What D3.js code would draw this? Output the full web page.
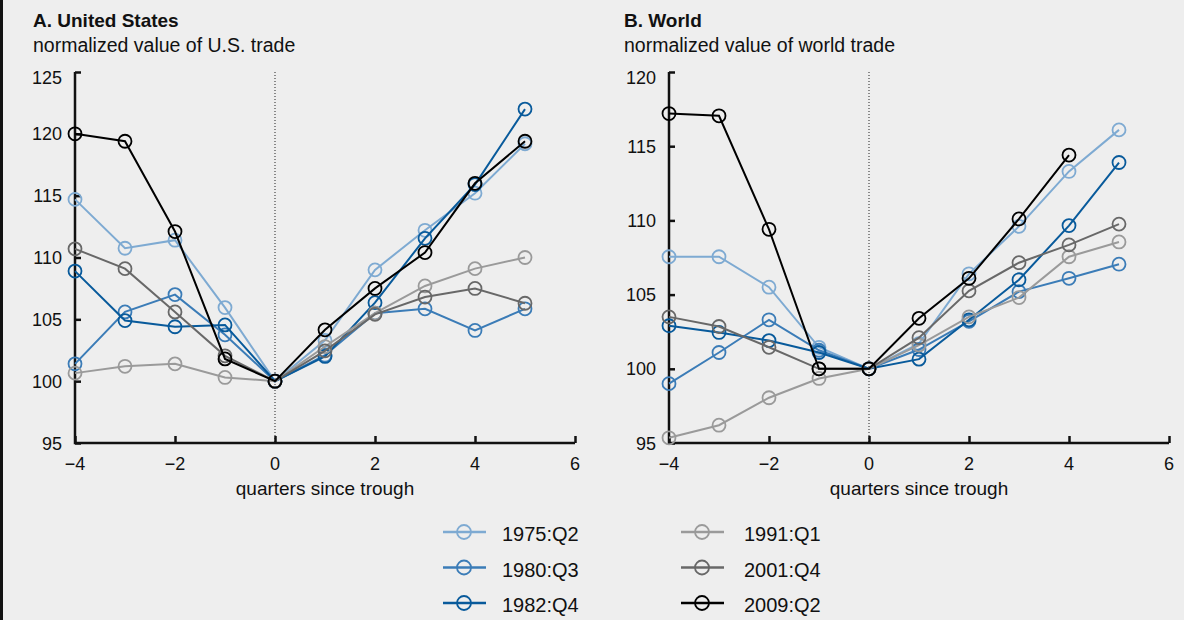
<html lang="en">
<head>
<script src="https://cdnjs.cloudflare.com/ajax/libs/d3/7.7.0/d3.min.js"></script>
<style>
html, body {
  margin: 0;
  background: #eeeeee;
  font-family: 'Liberation Sans', Arial, sans-serif;
}
svg text { fill: #111; font-size: 18px; }
</style>
</head>
<body>
<svg width="1184" height="620"></svg>
<script>
const quarters = [-4, -3, -2, -1, 0, 1, 2, 3, 4, 5];
const recessions = ['1975:Q2', '1980:Q3', '1982:Q4', '1991:Q1', '2001:Q4', '2009:Q2'];
const colors = ['#7eaad2', '#3b7cb7', '#085a9b', '#9a9a9a', '#686868', '#000000'];

// U.S. trade, normalized to 100 at trough
const us1975 = [114.7, 110.75, 111.4, 105.95, 100, 103.3, 109.0, 112.2, 115.2, 119.2];
const us1980 = [101.4, 105.6, 107.0, 103.75, 100, 102.1, 105.5, 105.85, 104.1, 105.85];
const us1982 = [108.9, 104.9, 104.4, 104.55, 100, 102.0, 106.35, 111.55, 115.9, 122.0];
const us1991 = [100.65, 101.2, 101.4, 100.3, 100, 102.8, 105.5, 107.7, 109.1, 110.0];
const us2001 = [110.7, 109.1, 105.6, 102.05, 100, 102.45, 105.4, 106.8, 107.5, 106.3];
const us2009 = [120.0, 119.4, 112.1, 101.8, 100, 104.15, 107.5, 110.4, 116.0, 119.4];

// world trade, normalized to 100 at trough
const w1975 = [107.55, 107.55, 105.5, 101.45, 100, 101.7, 106.4, 109.6, 113.3, 116.1];
const w1980 = [99.0, 101.1, 103.3, 101.25, 100, 101.3, 103.2, 105.2, 106.1, 107.05];
const w1982 = [102.9, 102.45, 101.9, 101.1, 100, 100.65, 103.3, 106.0, 109.65, 113.9];
const w1991 = [95.35, 96.2, 98.05, 99.35, 100, 101.6, 103.5, 104.8, 107.55, 108.55];
const w2001 = [103.5, 102.85, 101.45, 100.0, 100, 102.1, 105.25, 107.15, 108.35, 109.75];
const w2009 = [117.2, 117.05, 109.4, 100.0, 100, 103.4, 106.1, 110.1, 114.4, null];

const xTicks = [-4, -2, 0, 2, 4, 6];
const usTicks = [95, 100, 105, 110, 115, 120, 125];
const worldTicks = [95, 100, 105, 110, 115, 120];

const svg = d3.select('svg');

// left frame rule
svg.append('rect').attr('x', 0).attr('y', 0).attr('width', 3).attr('height', 620).attr('fill', '#111');

const panels = [
  { title: 'A. United States', sub: 'normalized value of U.S. trade', x0: 75, tx: 33,
    domain: [95, 125], ticks: usTicks,
    series: [us1975, us1980, us1982, us1991, us2001, us2009] },
  { title: 'B. World', sub: 'normalized value of world trade', x0: 669, tx: 624,
    domain: [95, 120], ticks: worldTicks,
    series: [w1975, w1980, w1982, w1991, w2001, w2009] }
];

const yTop = 72, yBottom = 443, plotW = 500;

panels.forEach(p => {
  const g = svg.append('g');
  const x = d3.scaleLinear().domain([-4, 6]).range([p.x0, p.x0 + plotW]);
  const y = d3.scaleLinear().domain(p.domain).range([yBottom, yTop]);

  g.append('text').attr('x', p.tx).attr('y', 27)
    .style('font-weight', 'bold').style('font-size', '19px').text(p.title);
  g.append('text').attr('x', p.tx).attr('y', 52)
    .style('font-size', '19.5px').text(p.sub);

  // zero line
  g.append('line')
    .attr('x1', x(0)).attr('x2', x(0)).attr('y1', yTop).attr('y2', yBottom)
    .attr('stroke', '#222').attr('stroke-width', 1).attr('stroke-dasharray', '1 2');

  // axes
  const yAxis = g.append('g').attr('transform', `translate(${p.x0},0)`)
    .call(d3.axisRight(y).tickValues(p.ticks).tickSize(6).tickFormat(''));
  const xAxis = g.append('g').attr('transform', `translate(0,${yBottom})`)
    .call(d3.axisTop(x).tickValues(xTicks).tickSize(7).tickFormat(''));
  [yAxis, xAxis].forEach(a => {
    a.select('.domain').remove();
    a.selectAll('line').attr('stroke', '#111').attr('stroke-width', 2.5);
  });
  g.append('path')
    .attr('d', `M${p.x0},${yTop}V${yBottom}H${p.x0 + plotW}`)
    .attr('fill', 'none').attr('stroke', '#111').attr('stroke-width', 2.5);

  g.selectAll('.ylab').data(p.ticks).enter().append('text')
    .attr('x', p.x0 - 13).attr('y', d => Math.max(y(d), yTop + 5) + 6.5)
    .attr('text-anchor', 'end')
    .text(d => d);
  g.selectAll('.xlab').data(xTicks).enter().append('text')
    .attr('x', d => x(d)).attr('y', yBottom + 27)
    .attr('text-anchor', 'middle')
    .text(d => d < 0 ? '\u2212' + Math.abs(d) : d);
  g.append('text').attr('x', p.x0 + plotW / 2).attr('y', yBottom + 52)
    .attr('text-anchor', 'middle').style('font-size', '19px').text('quarters since trough');

  const line = d3.line().defined(d => d[1] != null).x(d => x(d[0])).y(d => y(d[1]));

  p.series.forEach((s, i) => {
    const pts = quarters.map((q, j) => [q, s[j]]);
    g.append('path').datum(pts)
      .attr('d', line).attr('fill', 'none')
      .attr('stroke', colors[i]).attr('stroke-width', 2);
    g.selectAll('.pt' + i).data(pts.filter(d => d[1] != null)).enter().append('circle')
      .attr('cx', d => x(d[0])).attr('cy', d => y(d[1])).attr('r', 6.5)
      .attr('fill', 'none').attr('stroke', colors[i]).attr('stroke-width', 1.8);
  });
});

// legend
const leg = svg.append('g');
recessions.forEach((r, i) => {
  const col = Math.floor(i / 3), row = i % 3;
  const lx = col === 0 ? 443 : 681;
  const ly = 532 + row * 35.5;
  leg.append('line').attr('x1', lx).attr('x2', lx + 43).attr('y1', ly).attr('y2', ly)
    .attr('stroke', colors[i]).attr('stroke-width', 2.5);
  leg.append('circle').attr('cx', lx + 21).attr('cy', ly).attr('r', 7)
    .attr('fill', 'none').attr('stroke', colors[i]).attr('stroke-width', 1.8);
  leg.append('text').attr('x', col === 0 ? 502 : 744).attr('y', ly + 9)
    .style('font-size', '20px').text(r);
});
</script>
</body>
</html>
